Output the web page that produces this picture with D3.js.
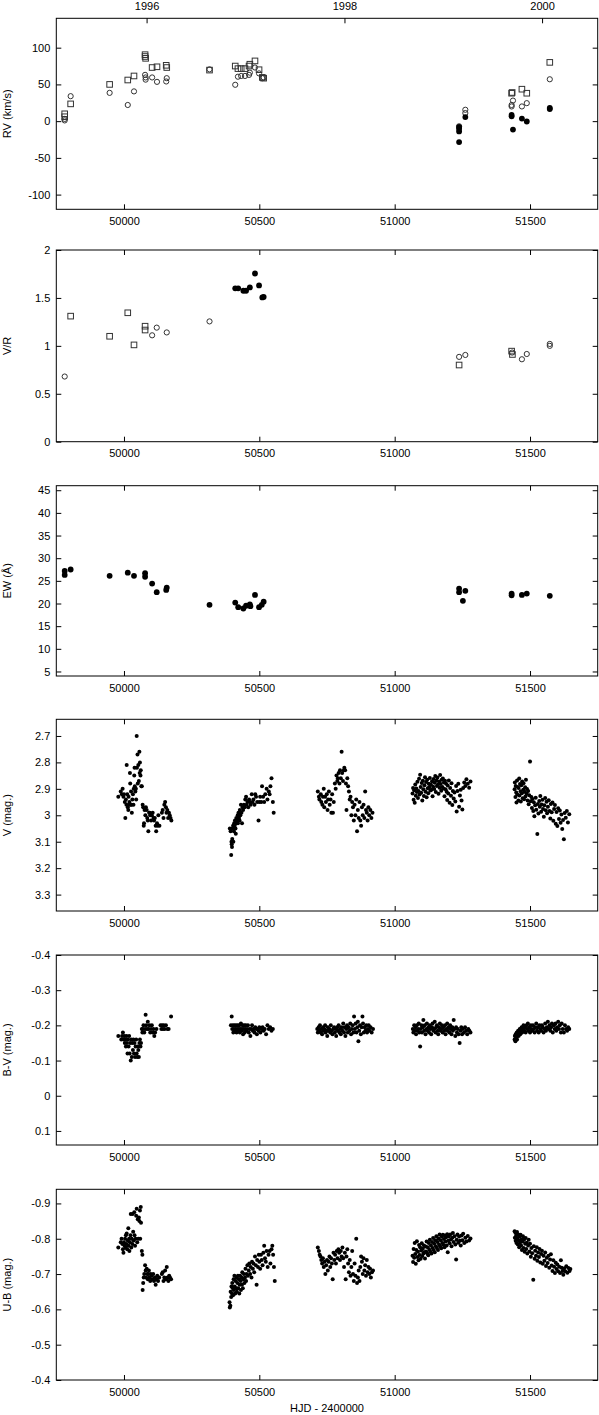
<!DOCTYPE html>
<meta charset="utf-8">
<script src="https://d3js.org/d3.v7.min.js"></script>
<style>
body { margin: 0; background: #fff; }
svg text { font-family: "Liberation Sans", Arial, sans-serif; font-size: 11px; fill: #000; }
</style>
<div id="chart"></div>
<script>

// ---- axes ----
var hjdTicks = [50000, 50500, 51000, 51500];
var yearTicks = [50083.5, 50814.5, 51544.5];
var yearLabels = ["1996", "1998", "2000"];

// ---- spectroscopy (HJD-2400000, value) ----
var rvSquare = [[49781,10],[49781,6],[49803,23.5],[49947,50],[50014,56],[50037,61.5],[50078,90.5],[50078,88],[50080,85.5],
  [50104,73],[50122,74],[50156,76],[50158,73],[50316,69.5],[50411,75],[50421,71.5],[50433,71.5],[50447,71.5],[50462,75],
  [50465,77.5],[50484,82],[50499,70],[50511,59.5],[50516,58.5],
  [51432,38],[51434,39],[51470,43.5],[51488,38],[51573,80]];
var rvCircle = [[49781,1],[49781,3],[49803,34],[49947,38.5],[50014,22],[50037,40.5],[50078,63],[50080,59.5],[50080,56.5],
  [50104,59.5],[50122,53.5],[50156,54],[50158,58.5],[50316,70.5],[50411,49.5],[50421,60.5],[50433,61.5],[50447,61.5],
  [50462,63],[50465,66],[50484,73],[50499,65],[50511,58.5],[50516,59.5],
  [51238,-7],[51261,15.5],[51261,11],[51432,22],[51432,20],[51437,28],[51470,20],[51488,24.5],[51573,57]];
var rvFilled = [[51238,-28.5],[51238,-14],[51238,-10.5],[51238,-8],[51261,5.5],[51432,6.5],[51432,8.5],[51437,-11.5],
  [51470,3.5],[51488,-0.5],[51573,18],[51573,16.5]];

var vrSquare = [[49803,1.31],[49947,1.10],[50014,1.345],[50037,1.01],[50078,1.205],[50078,1.165],
  [51238,0.80],[51432,0.945],[51435,0.91]];
var vrCircle = [[49781,0.68],[50104,1.11],[50121,1.19],[50158,1.14],[50316,1.255],
  [51238,0.885],[51261,0.905],[51434,0.93],[51470,0.86],[51488,0.915],[51573,1.02],[51573,1.0]];
var vrFilled = [[50411,1.60],[50422,1.60],[50441,1.575],[50451,1.575],[50465,1.61],[50484,1.755],[50499,1.63],
  [50511,1.505],[50516,1.51]];

var ewFilled = [[49781,27.2],[49781,26.3],[49803,27.5],[49947,26.1],[50014,26.8],[50037,26.1],[50078,26.7],[50078,25.9],
  [50104,24.4],[50121,22.5],[50156,23.0],[50158,23.5],[50316,19.7],[50411,20.2],[50422,19.2],[50441,18.9],[50451,19.5],
  [50465,19.8],[50467,19.4],[50484,21.9],[50499,19.2],[50509,19.7],[50516,20.4],
  [51238,23.3],[51238,22.5],[51252,20.6],[51261,22.8],[51432,22.2],[51432,21.8],[51470,21.9],[51488,22.2],[51573,21.7]];

// ---- photometry (HJD-2400000, mag) ----
var vMag = [[49979,2.93],[49988,2.91],[49992,2.92],[49995,2.90],[49998,2.93],[50000,2.92],[50003,2.95],[50005,3.01],
  [50007,2.94],[50009,2.96],[50010,2.81],[50012,2.92],[50014,2.97],[50016,2.98],[50017,2.93],[50019,2.96],[50020,2.95],
  [50022,2.84],[50023,2.88],[50025,2.96],[50026,2.91],[50028,2.96],[50029,2.99],[50031,2.94],[50033,2.92],[50035,2.96],
  [50036,2.90],[50038,2.85],[50039,2.82],[50040,2.89],[50042,2.91],[50044,2.90],[50045,2.94],[50047,2.70],[50048,2.82],
  [50050,2.77],[50051,2.88],[50053,2.81],[50055,2.87],[50057,2.76],[50058,2.84],[50059,2.80],[50061,2.85],[50062,2.83],
  [50064,2.89],[50066,2.89],[50069,2.96],[50071,2.97],[50073,3.04],[50074,3.03],[50076,2.98],[50079,3.00],[50081,2.97],
  [50084,2.98],[50086,3.01],[50088,3.02],[50090,3.06],[50093,2.99],[50095,2.99],[50097,3.00],[50100,3.02],[50103,3.00],
  [50106,2.99],[50109,3.01],[50111,3.02],[50114,3.01],[50117,3.04],[50119,3.06],[50122,3.03],[50124,3.04],[50127,3.00],
  [50131,3.04],[50140,2.99],[50143,2.98],[50146,3.01],[50149,2.96],[50152,2.95],[50155,2.97],[50157,2.99],[50160,2.98],
  [50163,3.01],[50166,2.99],[50169,3.00],[50172,3.01],[50175,3.02],
  [50391,3.05],[50394,3.06],[50396,3.15],[50397,3.10],[50398,3.11],[50399,3.12],[50400,3.09],[50401,3.05],[50403,3.04],
  [50404,3.10],[50406,3.06],[50407,3.03],[50409,3.04],[50410,3.02],[50412,3.05],[50413,3.07],[50415,3.01],[50416,3.03],
  [50418,3.02],[50420,3.00],[50421,3.03],[50423,2.99],[50425,3.01],[50427,3.02],[50428,2.98],[50430,3.00],[50432,2.96],
  [50434,2.99],[50436,3.03],[50438,2.97],[50440,2.98],[50443,2.96],[50446,2.97],[50448,2.94],[50451,2.93],[50453,2.96],
  [50456,2.95],[50459,2.97],[50462,2.94],[50465,2.95],[50468,2.96],[50472,2.92],[50475,2.95],[50478,2.94],[50482,2.96],
  [50485,2.92],[50488,2.93],[50492,2.95],[50497,3.02],[50500,2.95],[50503,2.93],[50507,2.95],[50510,2.89],[50514,2.93],
  [50518,2.95],[50522,2.92],[50527,2.90],[50530,2.94],[50535,2.91],[50538,2.92],[50541,2.89],[50545,2.86],[50550,2.95],
  [50553,2.99],
  [50716,2.91],[50720,2.93],[50722,2.94],[50727,2.92],[50729,2.95],[50733,2.96],[50735,2.93],[50738,2.90],[50740,2.97],
  [50743,2.93],[50746,2.95],[50749,2.92],[50752,2.98],[50754,2.94],[50757,2.91],[50760,2.96],[50763,2.94],[50766,2.99],
  [50769,2.92],[50772,2.99],[50775,2.95],[50779,2.88],[50782,2.90],[50785,2.85],[50788,2.87],[50790,2.86],[50793,2.84],
  [50796,2.88],[50798,2.83],[50801,2.86],[50804,2.76],[50806,2.84],[50809,2.87],[50812,2.83],[50814,2.82],[50817,2.83],
  [50820,2.88],[50822,2.98],[50825,2.86],[50828,2.89],[50831,2.91],[50834,2.94],[50837,2.93],[50840,3.00],[50843,2.95],
  [50846,2.97],[50849,3.02],[50852,2.96],[50855,3.00],[50858,2.94],[50861,3.06],[50864,2.98],[50867,3.01],[50870,2.95],
  [50873,3.02],[50876,3.04],[50879,2.97],[50882,3.00],[50885,2.96],[50888,3.01],[50891,2.91],[50894,2.98],[50897,2.99],
  [50900,3.02],[50903,2.97],[50906,3.00],[50910,2.98],[50914,3.01],[50918,2.99],
  [51066,2.918],[51068,2.897],[51070,2.941],[51072,2.905],[51074,2.953],[51076,2.884],[51078,2.926],[51080,2.899],
  [51082,2.912],[51084,2.873],[51086,2.935],[51088,2.908],[51090,2.862],[51092,2.921],[51094,2.847],[51096,2.893],
  [51098,2.915],[51100,2.878],[51102,2.944],[51104,2.869],[51106,2.902],[51108,2.927],[51110,2.886],[51112,2.856],
  [51114,2.911],[51116,2.874],[51118,2.932],[51120,2.866],[51122,2.898],[51124,2.917],[51126,2.881],[51128,2.893],
  [51130,2.859],[51132,2.906],[51134,2.884],[51136,2.903],[51138,2.871],[51140,2.928],[51142,2.892],[51144,2.863],
  [51146,2.901],[51148,2.877],[51150,2.851],[51152,2.912],[51154,2.868],[51156,2.889],[51158,2.857],[51160,2.884],
  [51162,2.919],[51164,2.872],[51166,2.896],[51168,2.848],[51170,2.882],[51172,2.907],[51174,2.866],[51176,2.893],
  [51178,2.861],[51180,2.899],[51182,2.876],[51184,2.928],[51186,2.869],[51188,2.902],[51190,2.881],[51192,2.911],
  [51194,2.942],[51196,2.887],[51198,2.918],[51200,2.868],[51203,2.953],[51205,2.897],[51208,2.926],[51210,2.879],
  [51213,2.961],[51215,2.908],[51218,2.937],[51221,2.914],[51224,2.948],[51227,2.889],[51229,2.986],[51232,2.908],
  [51235,2.881],[51238,2.968],[51241,2.925],[51244,2.903],[51247,2.944],[51250,2.978],[51253,2.897],[51257,2.876],
  [51261,2.889],[51265,2.864],[51270,2.881],[51275,2.896],[51280,2.872],
  [51443,2.902],[51444,2.876],[51446,2.931],[51447,2.889],[51449,2.914],[51450,2.952],[51452,2.868],[51453,2.921],
  [51455,2.893],[51457,2.944],[51458,2.897],[51460,2.861],[51461,2.925],[51463,2.882],[51465,2.909],[51466,2.948],
  [51468,2.886],[51470,2.917],[51471,2.872],[51473,2.936],[51475,2.903],[51476,2.879],[51478,2.939],[51480,2.911],
  [51482,2.894],[51483,2.929],[51485,2.866],[51487,2.918],[51489,2.901],[51491,2.944],[51493,2.908],[51495,2.958],
  [51497,2.924],[51500,2.797],[51502,2.947],[51505,2.931],[51507,2.972],[51509,2.938],[51512,2.984],[51514,2.951],
  [51516,3.004],[51519,2.962],[51521,2.934],[51523,2.979],[51527,3.071],[51529,2.957],[51531,2.993],[51534,2.946],
  [51536,2.968],[51538,2.927],[51541,2.987],[51543,2.959],[51546,2.941],[51548,2.976],[51551,3.006],[51553,2.962],
  [51556,2.935],[51558,2.981],[51561,2.949],[51563,2.992],[51566,2.968],[51569,2.943],[51572,2.984],[51575,3.012],
  [51577,2.957],[51580,2.989],[51583,2.952],[51586,3.021],[51589,2.976],[51592,2.961],[51595,3.032],[51598,2.988],
  [51601,3.041],[51604,2.973],[51607,3.014],[51610,2.982],[51613,3.028],[51616,2.997],[51619,3.052],[51622,3.018],
  [51625,3.091],[51628,2.991],[51632,3.009],[51636,2.984],[51640,3.027],[51645,2.996]];

var bvMag = [[49979,-0.17],[49990,-0.16],[49993,-0.17],[49996,-0.18],[49999,-0.16],[50001,-0.17],[50003,-0.15],
  [50005,-0.16],[50007,-0.14],[50009,-0.17],[50011,-0.15],[50013,-0.12],[50015,-0.16],[50017,-0.14],[50019,-0.17],
  [50021,-0.12],[50023,-0.15],[50025,-0.10],[50027,-0.16],[50029,-0.11],[50031,-0.15],[50033,-0.13],[50035,-0.16],
  [50037,-0.12],[50039,-0.15],[50041,-0.11],[50043,-0.14],[50045,-0.16],[50047,-0.12],[50049,-0.11],[50051,-0.14],
  [50053,-0.13],[50055,-0.11],[50057,-0.15],[50059,-0.16],[50061,-0.14],[50063,-0.15],[50066,-0.19],[50068,-0.18],
  [50070,-0.19],[50072,-0.20],[50075,-0.18],[50078,-0.19],[50080,-0.23],[50082,-0.20],[50085,-0.19],[50088,-0.21],
  [50091,-0.19],[50094,-0.20],[50097,-0.18],[50100,-0.19],[50103,-0.20],[50106,-0.18],[50109,-0.19],[50112,-0.17],
  [50115,-0.18],[50120,-0.19],[50135,-0.20],[50138,-0.19],[50141,-0.20],[50144,-0.19],[50147,-0.20],[50150,-0.19],
  [50155,-0.20],[50160,-0.19],[50165,-0.19],[50174,-0.225],
  [50395,-0.20],[50398,-0.225],[50400,-0.19],[50402,-0.20],[50404,-0.18],[50406,-0.19],[50408,-0.20],[50410,-0.185],
  [50412,-0.19],[50414,-0.20],[50416,-0.18],[50418,-0.19],[50420,-0.20],[50422,-0.185],[50424,-0.19],[50426,-0.20],
  [50428,-0.18],[50430,-0.19],[50432,-0.205],[50434,-0.185],[50436,-0.19],[50438,-0.20],[50440,-0.175],[50442,-0.19],
  [50444,-0.20],[50446,-0.18],[50448,-0.19],[50450,-0.20],[50452,-0.185],[50455,-0.19],[50458,-0.20],[50461,-0.18],
  [50464,-0.19],[50467,-0.17],[50470,-0.19],[50473,-0.20],[50476,-0.185],[50479,-0.19],[50482,-0.18],[50485,-0.195],
  [50488,-0.19],[50491,-0.175],[50494,-0.19],[50497,-0.185],[50500,-0.195],[50504,-0.18],[50508,-0.19],[50512,-0.195],
  [50516,-0.185],[50520,-0.19],[50525,-0.175],[50530,-0.20],[50535,-0.19],[50540,-0.195],[50545,-0.185],[50550,-0.19],
  [50714,-0.19],[50716,-0.18],[50719,-0.195],[50721,-0.185],[50724,-0.20],[50727,-0.18],[50729,-0.19],[50732,-0.175],
  [50735,-0.195],[50737,-0.185],[50740,-0.19],[50743,-0.20],[50745,-0.18],[50748,-0.185],[50751,-0.17],[50753,-0.195],
  [50756,-0.185],[50759,-0.19],[50762,-0.18],[50764,-0.20],[50767,-0.185],[50770,-0.175],[50773,-0.19],[50776,-0.195],
  [50779,-0.18],[50782,-0.19],[50784,-0.17],[50787,-0.195],[50790,-0.185],[50793,-0.20],[50796,-0.18],[50798,-0.19],
  [50801,-0.175],[50804,-0.195],[50807,-0.185],[50810,-0.205],[50813,-0.18],[50815,-0.195],[50818,-0.17],[50821,-0.19],
  [50824,-0.20],[50827,-0.18],[50830,-0.195],[50833,-0.185],[50836,-0.205],[50839,-0.175],[50842,-0.19],[50845,-0.20],
  [50848,-0.18],[50850,-0.225],[50853,-0.19],[50856,-0.205],[50859,-0.18],[50862,-0.195],[50864,-0.21],[50866,-0.155],
  [50869,-0.185],[50872,-0.20],[50875,-0.175],[50878,-0.195],[50881,-0.225],[50883,-0.205],[50886,-0.18],[50889,-0.195],
  [50892,-0.185],[50895,-0.20],[50898,-0.18],[50901,-0.19],[50904,-0.20],[50907,-0.185],[50911,-0.195],[50915,-0.18],
  [50920,-0.19],
  [51067,-0.19],[51069,-0.18],[51072,-0.20],[51074,-0.185],[51077,-0.195],[51079,-0.175],[51082,-0.20],[51084,-0.185],
  [51087,-0.19],[51089,-0.205],[51091,-0.18],[51094,-0.14],[51096,-0.19],[51099,-0.20],[51101,-0.18],[51104,-0.195],
  [51106,-0.215],[51109,-0.185],[51111,-0.20],[51114,-0.175],[51117,-0.19],[51119,-0.205],[51122,-0.185],[51125,-0.195],
  [51127,-0.18],[51130,-0.20],[51132,-0.19],[51135,-0.175],[51138,-0.195],[51140,-0.205],[51143,-0.185],[51146,-0.19],
  [51148,-0.21],[51151,-0.18],[51153,-0.195],[51156,-0.20],[51159,-0.185],[51161,-0.175],[51164,-0.195],[51167,-0.205],
  [51169,-0.185],[51172,-0.19],[51175,-0.20],[51177,-0.18],[51180,-0.195],[51183,-0.185],[51186,-0.20],[51188,-0.175],
  [51191,-0.19],[51194,-0.205],[51196,-0.185],[51199,-0.195],[51202,-0.18],[51205,-0.20],[51207,-0.19],[51210,-0.175],
  [51213,-0.195],[51215,-0.185],[51218,-0.215],[51221,-0.19],[51224,-0.17],[51227,-0.195],[51230,-0.18],[51233,-0.19],
  [51236,-0.175],[51240,-0.15],[51243,-0.185],[51246,-0.195],[51249,-0.175],[51252,-0.19],[51256,-0.18],[51260,-0.195],
  [51264,-0.185],[51268,-0.175],[51272,-0.19],[51276,-0.185],[51280,-0.18],
  [51443,-0.16],[51444,-0.17],[51446,-0.155],[51447,-0.175],[51449,-0.165],[51451,-0.18],[51452,-0.16],[51454,-0.175],
  [51456,-0.185],[51458,-0.17],[51460,-0.18],[51462,-0.19],[51464,-0.175],[51467,-0.185],[51469,-0.195],[51471,-0.18],
  [51474,-0.19],[51476,-0.20],[51479,-0.185],[51481,-0.195],[51484,-0.18],[51487,-0.20],[51489,-0.19],[51492,-0.205],
  [51495,-0.185],[51497,-0.195],[51500,-0.18],[51503,-0.20],[51505,-0.19],[51508,-0.185],[51511,-0.20],[51514,-0.19],
  [51517,-0.18],[51520,-0.195],[51523,-0.205],[51526,-0.185],[51529,-0.195],[51532,-0.18],[51535,-0.20],[51538,-0.19],
  [51541,-0.185],[51544,-0.20],[51547,-0.195],[51550,-0.18],[51553,-0.19],[51556,-0.205],[51559,-0.185],[51562,-0.195],
  [51566,-0.21],[51569,-0.19],[51572,-0.20],[51575,-0.185],[51578,-0.195],[51581,-0.205],[51584,-0.18],[51588,-0.20],
  [51591,-0.19],[51594,-0.205],[51597,-0.185],[51600,-0.195],[51604,-0.21],[51607,-0.19],[51610,-0.20],[51614,-0.18],
  [51617,-0.205],[51621,-0.19],[51625,-0.18],[51629,-0.20],[51633,-0.19],[51637,-0.185],[51641,-0.195],[51645,-0.19]];

var ubMag = [[49979,-0.775],[49988,-0.79],[49991,-0.80],[49994,-0.785],[49996,-0.77],[49998,-0.76],[50000,-0.79],
  [50002,-0.78],[50004,-0.80],[50006,-0.775],[50007,-0.81],[50009,-0.785],[50010,-0.815],[50012,-0.77],[50014,-0.795],
  [50016,-0.83],[50017,-0.78],[50019,-0.80],[50020,-0.765],[50022,-0.79],[50024,-0.81],[50025,-0.87],[50027,-0.775],
  [50029,-0.80],[50031,-0.785],[50032,-0.87],[50034,-0.82],[50036,-0.795],[50038,-0.875],[50039,-0.81],[50041,-0.78],
  [50043,-0.80],[50045,-0.865],[50047,-0.885],[50049,-0.79],[50051,-0.855],[50053,-0.80],[50055,-0.86],[50057,-0.85],
  [50059,-0.88],[50060,-0.80],[50062,-0.89],[50063,-0.845],[50066,-0.765],[50068,-0.755],
  [50069,-0.655],[50071,-0.675],[50073,-0.69],[50075,-0.70],[50078,-0.725],[50080,-0.71],[50082,-0.69],[50084,-0.715],
  [50086,-0.70],[50088,-0.685],[50090,-0.70],[50092,-0.71],[50094,-0.69],[50097,-0.68],[50099,-0.70],[50102,-0.695],
  [50105,-0.685],[50108,-0.70],[50111,-0.68],[50114,-0.69],[50117,-0.67],[50120,-0.685],[50123,-0.695],[50126,-0.68],
  [50130,-0.69],[50140,-0.70],[50143,-0.705],[50146,-0.68],[50149,-0.69],[50152,-0.71],[50155,-0.685],[50158,-0.72],
  [50161,-0.69],[50164,-0.68],[50167,-0.695],[50170,-0.69],[50174,-0.685],
  [50390,-0.62],[50391,-0.605],[50393,-0.61],[50394,-0.65],[50396,-0.635],[50397,-0.665],[50399,-0.645],[50400,-0.675],
  [50402,-0.66],[50403,-0.64],[50405,-0.685],[50406,-0.655],[50408,-0.695],[50409,-0.665],[50411,-0.645],[50412,-0.68],
  [50414,-0.66],[50416,-0.69],[50417,-0.65],[50419,-0.675],[50421,-0.695],[50422,-0.66],[50424,-0.685],[50426,-0.645],
  [50427,-0.67],[50429,-0.695],[50431,-0.68],[50432,-0.655],[50434,-0.69],[50436,-0.67],[50437,-0.705],[50439,-0.66],
  [50441,-0.685],[50443,-0.70],[50445,-0.675],[50447,-0.69],[50449,-0.715],[50451,-0.68],[50453,-0.70],[50456,-0.725],
  [50458,-0.695],[50461,-0.71],[50463,-0.73],[50466,-0.70],[50468,-0.72],[50471,-0.69],[50473,-0.735],[50476,-0.715],
  [50478,-0.73],[50481,-0.705],[50484,-0.75],[50487,-0.725],[50490,-0.67],[50492,-0.74],[50495,-0.72],[50498,-0.755],
  [50500,-0.735],[50503,-0.715],[50506,-0.755],[50509,-0.74],[50512,-0.725],[50515,-0.76],[50518,-0.78],[50521,-0.745],
  [50524,-0.735],[50527,-0.765],[50531,-0.72],[50534,-0.755],[50538,-0.765],[50541,-0.73],[50545,-0.77],[50548,-0.78],
  [50551,-0.755],[50554,-0.72],[50557,-0.68],
  [50716,-0.775],[50720,-0.765],[50723,-0.755],[50726,-0.75],[50729,-0.74],[50732,-0.73],[50735,-0.745],[50738,-0.72],
  [50741,-0.735],[50744,-0.70],[50747,-0.725],[50750,-0.74],[50753,-0.71],[50756,-0.735],[50759,-0.75],[50762,-0.72],
  [50765,-0.745],[50768,-0.73],[50771,-0.685],[50774,-0.76],[50777,-0.74],[50780,-0.755],[50783,-0.73],[50786,-0.765],
  [50789,-0.745],[50792,-0.77],[50795,-0.76],[50798,-0.74],[50801,-0.765],[50804,-0.75],[50807,-0.775],[50810,-0.745],
  [50813,-0.72],[50816,-0.76],[50819,-0.685],[50822,-0.75],[50825,-0.77],[50828,-0.73],[50831,-0.705],[50834,-0.74],
  [50837,-0.695],[50840,-0.72],[50843,-0.765],[50846,-0.70],[50849,-0.68],[50852,-0.73],[50855,-0.695],[50858,-0.80],
  [50861,-0.675],[50864,-0.69],[50867,-0.71],[50870,-0.68],[50873,-0.72],[50876,-0.75],[50879,-0.735],[50882,-0.70],
  [50885,-0.745],[50888,-0.71],[50891,-0.725],[50894,-0.695],[50897,-0.74],[50900,-0.705],[50903,-0.72],[50906,-0.70],
  [50909,-0.715],[50912,-0.69],[50916,-0.705],[50920,-0.71],
  [51066,-0.752],[51068,-0.734],[51070,-0.771],[51072,-0.746],[51074,-0.788],[51076,-0.757],[51078,-0.729],[51080,-0.768],
  [51082,-0.793],[51084,-0.748],[51086,-0.763],[51088,-0.739],[51090,-0.782],[51092,-0.754],[51094,-0.776],[51096,-0.743],
  [51098,-0.767],[51100,-0.787],[51102,-0.751],[51104,-0.772],[51106,-0.758],[51108,-0.781],[51110,-0.762],[51112,-0.744],
  [51114,-0.778],[51116,-0.764],[51118,-0.792],[51120,-0.759],[51122,-0.776],[51124,-0.753],[51126,-0.788],[51128,-0.769],
  [51130,-0.797],[51132,-0.763],[51134,-0.781],[51136,-0.758],[51138,-0.791],[51140,-0.774],[51142,-0.802],[51144,-0.768],
  [51146,-0.786],[51148,-0.762],[51150,-0.796],[51152,-0.779],[51154,-0.807],[51156,-0.774],[51158,-0.791],[51160,-0.768],
  [51162,-0.801],[51164,-0.784],[51166,-0.812],[51168,-0.779],[51170,-0.796],[51172,-0.773],[51174,-0.806],[51176,-0.788],
  [51178,-0.811],[51180,-0.783],[51182,-0.799],[51184,-0.776],[51186,-0.809],[51188,-0.792],[51190,-0.804],[51192,-0.781],
  [51194,-0.813],[51196,-0.762],[51198,-0.794],[51200,-0.806],[51203,-0.787],[51205,-0.812],[51208,-0.798],[51210,-0.779],
  [51213,-0.803],[51215,-0.816],[51218,-0.791],[51221,-0.807],[51224,-0.784],[51227,-0.741],[51229,-0.797],[51232,-0.812],
  [51235,-0.789],[51238,-0.806],[51241,-0.794],[51244,-0.781],[51247,-0.809],[51250,-0.796],[51253,-0.814],[51257,-0.788],
  [51261,-0.803],[51265,-0.792],[51270,-0.808],[51275,-0.795],[51280,-0.801],
  [51443,-0.821],[51444,-0.803],[51446,-0.817],[51447,-0.794],[51449,-0.809],[51450,-0.788],[51452,-0.819],[51453,-0.801],
  [51455,-0.784],[51457,-0.812],[51458,-0.796],[51460,-0.776],[51462,-0.806],[51463,-0.789],[51465,-0.811],[51467,-0.781],
  [51469,-0.798],[51470,-0.768],[51472,-0.792],[51474,-0.807],[51476,-0.774],[51478,-0.797],[51480,-0.763],[51482,-0.786],
  [51484,-0.802],[51486,-0.771],[51488,-0.789],[51490,-0.758],[51493,-0.781],[51495,-0.797],[51498,-0.764],[51500,-0.786],
  [51503,-0.749],[51505,-0.774],[51508,-0.759],[51512,-0.684],[51514,-0.779],[51517,-0.743],[51519,-0.766],[51522,-0.752],
  [51525,-0.776],[51527,-0.738],[51530,-0.761],[51533,-0.748],[51535,-0.771],[51538,-0.733],[51541,-0.757],[51544,-0.766],
  [51547,-0.729],[51550,-0.752],[51553,-0.738],[51556,-0.761],[51559,-0.723],[51562,-0.746],[51565,-0.731],[51568,-0.752],
  [51571,-0.718],[51574,-0.741],[51577,-0.756],[51580,-0.724],[51583,-0.709],[51586,-0.739],[51589,-0.721],[51592,-0.703],
  [51595,-0.732],[51598,-0.714],[51601,-0.727],[51604,-0.708],[51608,-0.721],[51611,-0.703],[51614,-0.739],[51617,-0.718],
  [51620,-0.709],[51623,-0.698],[51626,-0.716],[51630,-0.708],[51634,-0.722],[51638,-0.704],[51642,-0.717],[51646,-0.709],
  [51649,-0.714]];

// y tick values per panel
var rvTicks = [-100, -50, 0, 50, 100];
var vrTicks = [0, 0.5, 1, 1.5, 2];
var ewTicks = [5, 10, 15, 20, 25, 30, 35, 40, 45];
var vTicks = [2.7, 2.8, 2.9, 3.0, 3.1, 3.2, 3.3];
var bvTicks = [-0.4, -0.3, -0.2, -0.1, 0, 0.1];
var ubTicks = [-0.9, -0.8, -0.7, -0.6, -0.5, -0.4];

var W = 599, H = 1415;
var left = 56.3, right = 597.7;

var svg = d3.select("#chart").append("svg")
    .attr("width", W)
    .attr("height", H);

var x = d3.scaleLinear().domain([49750, 51750]).range([left, right]);

// top/bottom pixel of each frame; "flip" means larger values go down
var panels = [
  {top: 18.3, bottom: 209.3, domain: [-120, 140], ticks: rvTicks, label: "RV (km/s)",
   series: [{data: rvSquare, type: "square"}, {data: rvCircle, type: "circle"}, {data: rvFilled, type: "big"}], years: true},
  {top: 250, bottom: 441.7, domain: [0, 2], ticks: vrTicks, label: "V/R",
   series: [{data: vrSquare, type: "square"}, {data: vrCircle, type: "circle"}, {data: vrFilled, type: "big"}]},
  {top: 485.7, bottom: 676, domain: [4, 46], ticks: ewTicks, label: "EW (Å)",
   series: [{data: ewFilled, type: "big"}]},
  {top: 719.3, bottom: 911, domain: [2.637, 3.362], ticks: vTicks, label: "V (mag.)", flip: true,
   series: [{data: vMag, type: "dot"}]},
  {top: 955, bottom: 1145, domain: [-0.4, 0.14], ticks: bvTicks, label: "B-V (mag.)", flip: true,
   series: [{data: bvMag, type: "dot"}]},
  {top: 1189.3, bottom: 1380, domain: [-0.94, -0.4], ticks: ubTicks, label: "U-B (mag.)", flip: true,
   series: [{data: ubMag, type: "dot"}]}
];

function fmt(v) { return String(+v.toFixed(1)); }

panels.forEach(function(p) {
  var y = d3.scaleLinear().domain(p.domain)
    .range(p.flip ? [p.top, p.bottom] : [p.bottom, p.top]);
  var g = svg.append("g");

  // points
  p.series.forEach(function(s) {
    var sel = g.append("g").selectAll("x").data(s.data).enter();
    if (s.type === "square") {
      sel.append("rect")
        .attr("x", function(d) { return x(d[0]) - 2.8; })
        .attr("y", function(d) { return y(d[1]) - 2.8; })
        .attr("width", 5.6).attr("height", 5.6)
        .style("fill", "none").style("stroke", "#333").style("stroke-width", 1);
    } else if (s.type === "circle") {
      sel.append("circle")
        .attr("cx", function(d) { return x(d[0]); })
        .attr("cy", function(d) { return y(d[1]); })
        .attr("r", 2.6)
        .style("fill", "none").style("stroke", "#333").style("stroke-width", 1);
    } else {
      sel.append("circle")
        .attr("cx", function(d) { return x(d[0]); })
        .attr("cy", function(d) { return y(d[1]); })
        .attr("r", s.type === "big" ? 2.9 : 2.0)
        .style("fill", "#000");
    }
  });

  // frame
  g.append("rect")
    .attr("x", left).attr("y", p.top)
    .attr("width", right - left).attr("height", p.bottom - p.top)
    .style("fill", "none").style("stroke", "#000").style("stroke-width", 1);

  // left axis with labels, right mirror
  var ay = g.append("g").attr("transform", "translate(" + left + ",0)")
    .call(d3.axisLeft(y).tickValues(p.ticks).tickSize(-5).tickPadding(6).tickFormat(fmt));
  var ay2 = g.append("g").attr("transform", "translate(" + right + ",0)")
    .call(d3.axisRight(y).tickValues(p.ticks).tickSize(-5).tickFormat(""));

  // bottom axis with labels, top mirror (or years on the first panel)
  var ax = g.append("g").attr("transform", "translate(0," + p.bottom + ")")
    .call(d3.axisBottom(x).tickValues(hjdTicks).tickSize(-5).tickPadding(8).tickFormat(d3.format("d")));
  var ax2;
  if (p.years) {
    ax2 = g.append("g").attr("transform", "translate(0," + p.top + ")")
      .call(d3.axisTop(x).tickValues(yearTicks).tickSize(-5).tickPadding(8)
        .tickFormat(function(d, i) { return yearLabels[i]; }));
  } else {
    ax2 = g.append("g").attr("transform", "translate(0," + p.top + ")")
      .call(d3.axisTop(x).tickValues(hjdTicks).tickSize(-5).tickFormat(""));
  }

  [ay, ay2, ax, ax2].forEach(function(a) {
    a.select(".domain").remove();
    a.attr("font-family", null).attr("font-size", null);
    a.selectAll("line").style("stroke", "#000");
  });

  // y label
  g.append("text")
    .attr("transform", "translate(11," + ((p.top + p.bottom) / 2) + ") rotate(-90)")
    .attr("text-anchor", "middle")
    .text(p.label);
});

svg.append("text")
  .attr("x", (left + right) / 2)
  .attr("y", 1412)
  .attr("text-anchor", "middle")
  .text("HJD - 2400000");

</script>
